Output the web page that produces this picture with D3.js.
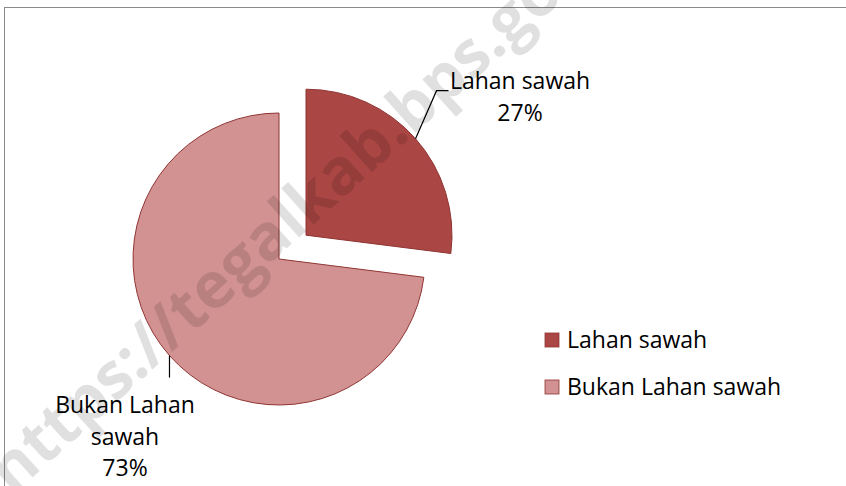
<!DOCTYPE html>
<html>
<head>
<meta charset="utf-8">
<script src="https://cdn.jsdelivr.net/npm/d3@7"></script>
<style>
  body { margin: 0; background: #fff; }
  svg text { font-family: "Open Sans", "Noto Sans", sans-serif; }
</style>
</head>
<body>
<div id="chart"></div>
<script>
// Land use share
const categories = ["Lahan sawah", "Bukan Lahan sawah"];
const values = [27, 73];
const labelLines = [["Lahan sawah", "27%"], ["Bukan Lahan", "sawah", "73%"]];
const colors = ["#AA4643", "#D39292"];

const width = 846, height = 486;
const cx = 279, cy = 259, radius = 146, explode = 36;

const svg = d3.select("#chart")
    .append("svg")
    .attr("width", width)
    .attr("height", height);

// chart frame
svg.append("rect")
    .attr("x", 4.5)
    .attr("y", 7.5)
    .attr("width", 900)
    .attr("height", 600)
    .attr("fill", "none")
    .attr("stroke", "#8a8a8a")
    .attr("stroke-width", 1);

const pie = d3.pie().sort(null).value(d => d);
const arcs = pie(values);
const arc = d3.arc().innerRadius(0).outerRadius(radius);
const edge = d3.arc().innerRadius(radius).outerRadius(radius);

// offset for each slice (only the first one is pulled out)
function offset(d, i) {
    if (i !== 0) return [0, 0];
    const a = (d.startAngle + d.endAngle) / 2;
    return [explode * Math.sin(a), -explode * Math.cos(a)];
}

const g = svg.append("g").attr("transform", `translate(${cx}, ${cy})`);

g.selectAll(".slice")
    .data(arcs)
    .enter().append("path")
    .attr("class", "slice")
    .attr("transform", (d, i) => `translate(${offset(d, i)})`)
    .attr("d", arc)
    .attr("fill", (d, i) => colors[i])
    .attr("stroke", "#8f3533")
    .attr("stroke-width", 1);

// leader lines
const p0 = edge.centroid(arcs[0]), o0 = offset(arcs[0], 0);
const s0 = [p0[0] + o0[0], p0[1] + o0[1]];
g.append("path")
    .attr("d", `M${s0[0]},${s0[1]} L${s0[0] + 21},${s0[1] - 48} L${s0[0] + 33},${s0[1] - 48}`)
    .attr("fill", "none")
    .attr("stroke", "#000")
    .attr("stroke-width", 1.2);

const p1 = edge.centroid(arcs[1]);
g.append("path")
    .attr("d", `M${p1[0]},${p1[1]} V${p1[1] + 22}`)
    .attr("fill", "none")
    .attr("stroke", "#000")
    .attr("stroke-width", 1.2);

// data labels
const labelPos = [[520, 89], [125, 413]];
labelLines.forEach((lines, i) => {
    const t = svg.append("text")
        .attr("text-anchor", "middle")
        .attr("font-size", "23px")
        .attr("fill", "#000");
    lines.forEach((s, j) => {
        t.append("tspan")
            .attr("x", labelPos[i][0])
            .attr("y", labelPos[i][1] + j * 31.5)
            .text(s);
    });
});

// legend
const legend = svg.append("g").attr("transform", "translate(545, 333)");
const item = legend.selectAll(".item")
    .data(categories)
    .enter().append("g")
    .attr("class", "item")
    .attr("transform", (d, i) => `translate(0, ${i * 47})`);
item.append("rect")
    .attr("width", 14)
    .attr("height", 14)
    .attr("fill", (d, i) => colors[i])
    .attr("stroke", "#8f3533")
    .attr("stroke-width", 0.8);
item.append("text")
    .attr("x", 22)
    .attr("y", 14.5)
    .attr("font-size", "23px")
    .attr("fill", "#000")
    .text(d => d);

// watermark
svg.append("text")
    .attr("transform", "translate(12, 496) rotate(-42)")
    .attr("font-size", "64px")
    .attr("font-weight", "bold")
    .attr("fill", "#000")
    .attr("fill-opacity", 0.12)
    .text("https://tegalkab.bps.go.id");
</script>
</body>
</html>
